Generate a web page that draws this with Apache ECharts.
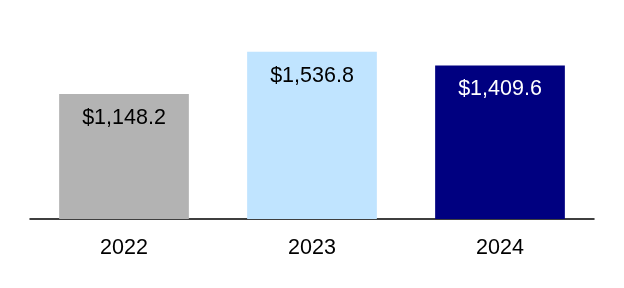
<!DOCTYPE html>
<html><head><meta charset="utf-8">
<script src="https://cdn.jsdelivr.net/npm/echarts@6/dist/echarts.min.js"></script>
<style>html,body{margin:0;padding:0;background:#fff}#c{width:624px;height:288px}</style>
</head><body><div id="c"></div>
<script>
const categories = ['2022', '2023', '2024'];
const values = [1148.2, 1536.8, 1409.6];
const barColors = ['#b3b3b3', '#c0e4ff', '#000080'];
const labelColors = ['#000000', '#000000', '#ffffff'];

const chart = echarts.init(document.getElementById('c'), null, {renderer: 'canvas'});
chart.setOption({
  animation: false,
  grid: {left: 30, right: 30, top: 23, bottom: 69},
  xAxis: {
    type: 'category', data: categories,
    axisLine: {lineStyle: {color: '#000', width: 1.5}},
    axisTick: {show: false},
    axisLabel: {color: '#000', fontSize: 21.5, fontFamily: 'Liberation Sans, Arial', margin: 18}
  },
  yAxis: {type: 'value', min: 0, max: 1800, show: false, splitLine: {show: false}},
  series: [{
    type: 'bar', barWidth: '69%',
    data: values.map((v, i) => ({
      value: v,
      itemStyle: {color: barColors[i]},
      label: {color: labelColors[i]}
    })),
    label: {
      show: true, position: 'insideTop', distance: 13,
      fontSize: 21.5, fontFamily: 'Liberation Sans, Arial',
      formatter: p => '$' + p.value.toLocaleString('en-US', {minimumFractionDigits: 1, maximumFractionDigits: 1})
    }
  }]
});
</script></body></html>
